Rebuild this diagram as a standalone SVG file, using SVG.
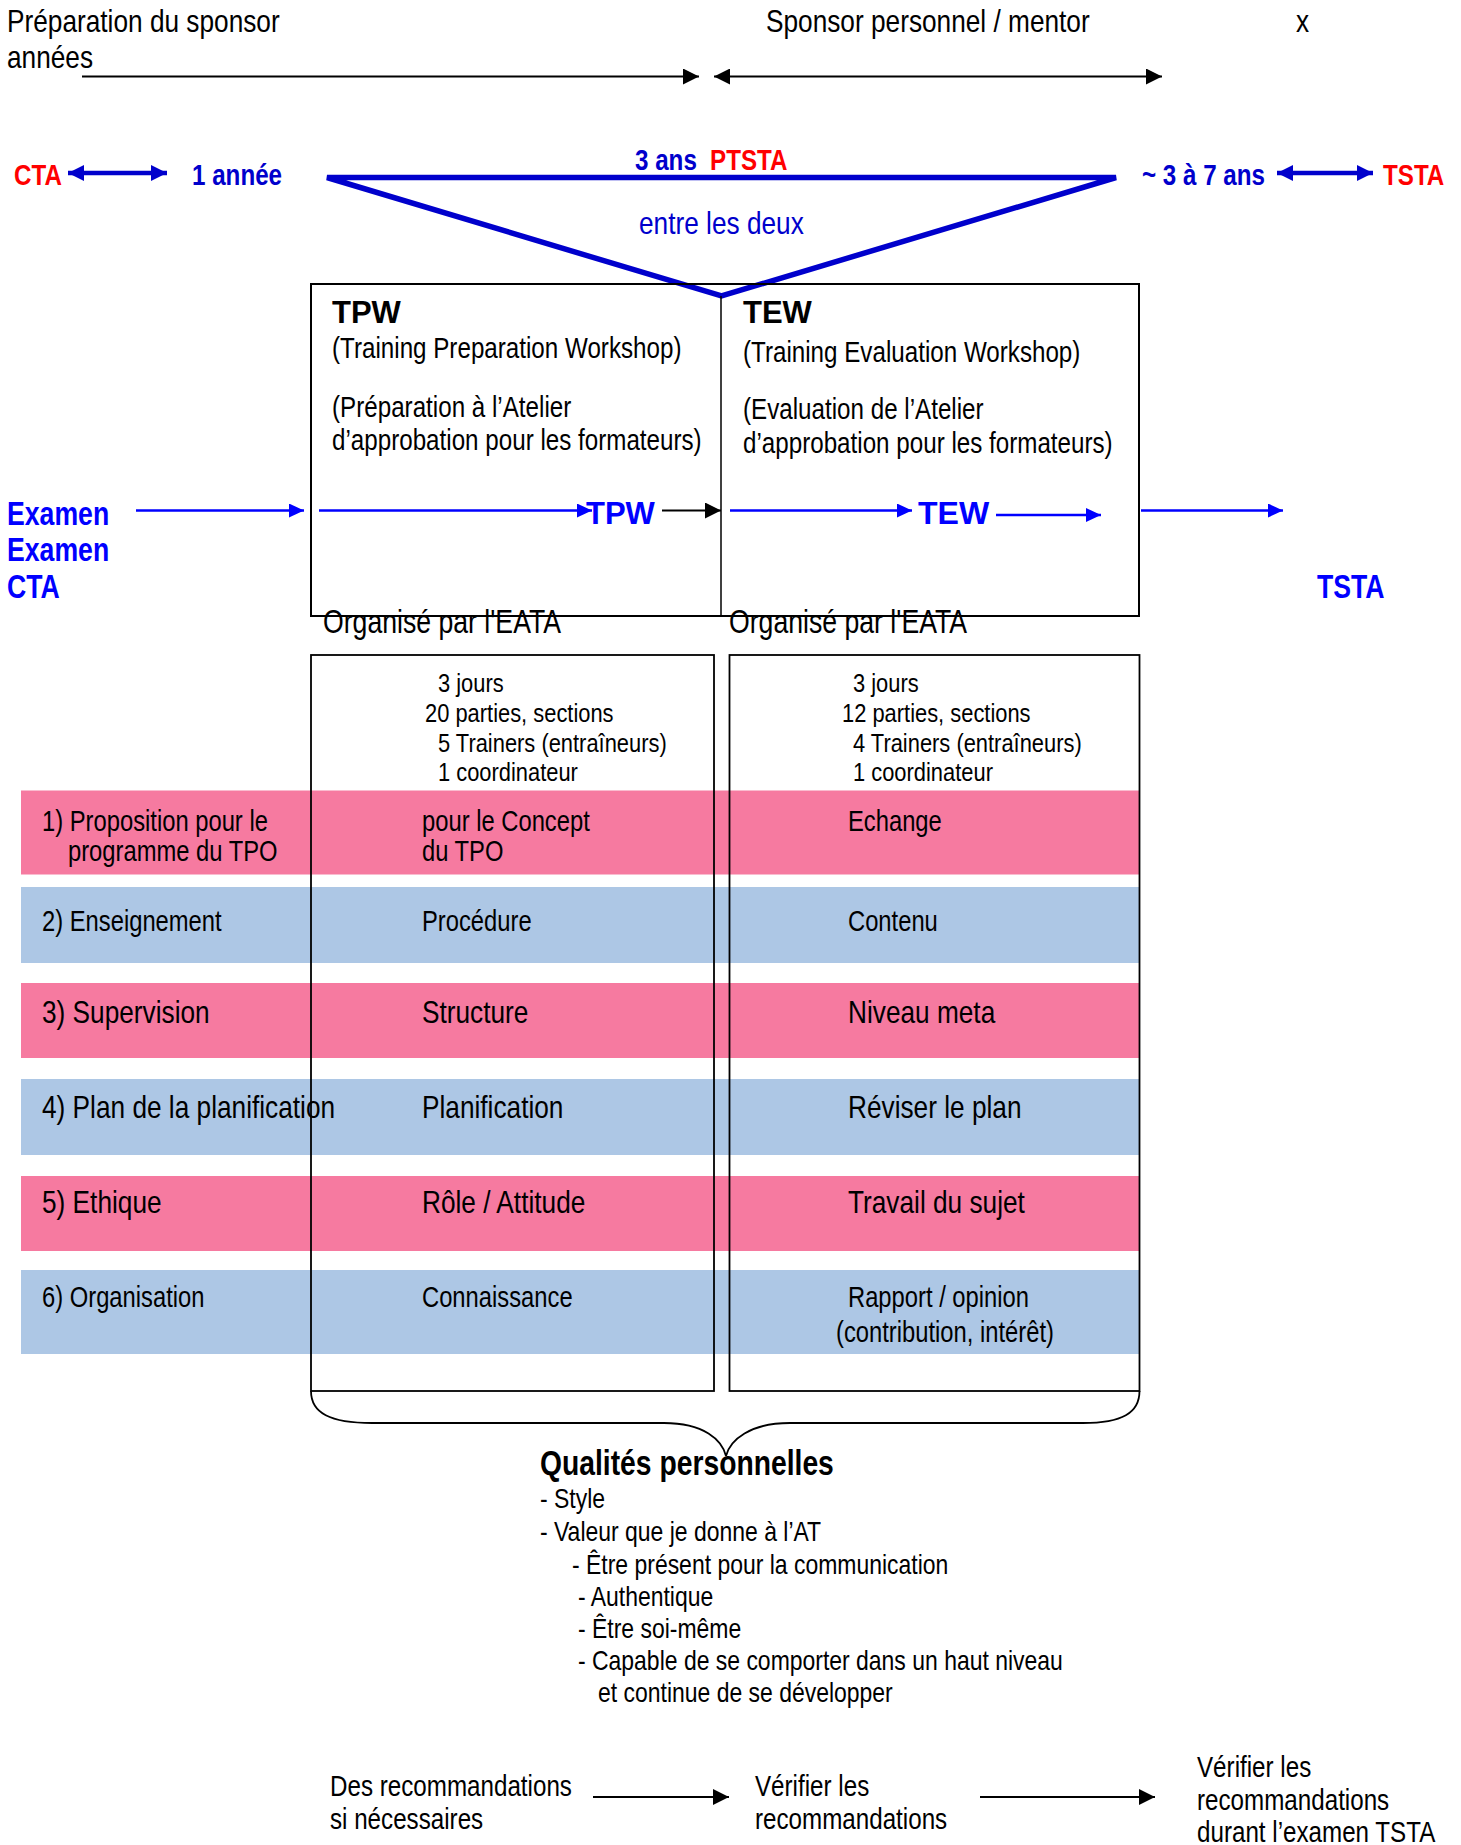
<svg xmlns="http://www.w3.org/2000/svg" width="1461" height="1845" viewBox="0 0 1461 1845">
<style>
text{font-family:"Liberation Sans",Arial,sans-serif;fill:#000}
.n{transform-box:fill-box;transform-origin:0% 50%;transform:scaleX(0.82)}
.h{font-size:32px}
.lb{font-size:29.5px;font-weight:bold}
.xb{font-size:32.5px;font-weight:bold;fill:#0000ff}
.red{fill:#ff0000}
.dblue{fill:#0000cc}
.blue{fill:#0000ff}
.wb{font-weight:bold;font-size:31px}
.bx{font-size:29.5px}
.org{font-size:32.5px}
.th{font-size:26.7px}
.r1{font-size:29px}
.r2{font-size:32px}
.q{font-size:28px}
.bt{font-size:29.5px}
.pink{fill:#f67aa0}
.lblue{fill:#adc7e5}
.ln{stroke:#000;stroke-width:2;fill:none}
.bl{stroke:#0000ff;stroke-width:2.5;fill:none}
.db{stroke:#0000cc;stroke-width:4.5;fill:none}
</style>
<defs>
<marker id="ak" markerUnits="userSpaceOnUse" markerWidth="16" markerHeight="16" refX="16" refY="8" orient="auto-start-reverse"><path d="M0,0 L16,8 L0,16 z" fill="#000"/></marker>
<marker id="ab" markerUnits="userSpaceOnUse" markerWidth="15" markerHeight="14" refX="15" refY="7" orient="auto-start-reverse"><path d="M0,0 L15,7 L0,14 z" fill="#0000ff"/></marker>
<marker id="ad" markerUnits="userSpaceOnUse" markerWidth="16" markerHeight="16" refX="16" refY="8" orient="auto-start-reverse"><path d="M0,0 L16,8 L0,16 z" fill="#0000cc"/></marker>
</defs>

<g id="bands">
<rect class="pink" x="21" y="790.5" width="1119" height="84"/>
<rect class="lblue" x="21" y="887" width="1119" height="76"/>
<rect class="pink" x="21" y="983" width="1119" height="75"/>
<rect class="lblue" x="21" y="1079" width="1119" height="76"/>
<rect class="pink" x="21" y="1176" width="1119" height="75"/>
<rect class="lblue" x="21" y="1270" width="1119" height="84"/>
</g>

<g id="header">
<text class="n h" x="7" y="32">Préparation du sponsor</text>
<text class="n h" x="7" y="68">années</text>
<text class="n h" x="766" y="32">Sponsor personnel / mentor</text>
<text class="n h" x="1296" y="32">x</text>
</g>

<g id="timeline">
<text class="n lb red" x="14" y="185">CTA</text>
<text class="n lb dblue" x="192" y="185">1 année</text>
<text class="n lb dblue" x="635" y="170">3 ans</text>
<text class="n lb red" x="710" y="170">PTSTA</text>
<text class="n lb dblue" x="1142" y="185">~ 3 à 7 ans</text>
<text class="n lb red" x="1383" y="185">TSTA</text>
</g>

<g id="triangle">
<polygon points="327,177.5 1116,177.5 721.5,296" fill="none" stroke="#0000cc" stroke-width="5.5"/>
<text class="n" x="639" y="234" style="font-size:32px;fill:#0000cc">entre les deux</text>
</g>

<g id="workshops">
<rect x="311" y="284" width="828" height="332" fill="none" stroke="#000" stroke-width="2"/>
<line x1="721" y1="296" x2="721" y2="616" stroke="#000" stroke-width="1.5"/>
</g>
<g id="tpw">
<text class="wb" x="332" y="323">TPW</text>
<text class="n bx" x="332" y="358">(Training Preparation Workshop)</text>
<text class="n bx" x="332" y="417">(Préparation à l’Atelier</text>
<text class="n bx" x="332" y="450">d’approbation pour les formateurs)</text>
<text class="n org" x="323" y="633">Organisé par l'EATA</text>
</g>
<g id="tew">
<text class="wb" x="743" y="323">TEW</text>
<text class="n bx" x="743" y="362">(Training Evaluation Workshop)</text>
<text class="n bx" x="743" y="419">(Evaluation de l’Atelier</text>
<text class="n bx" x="743" y="453">d’approbation pour les formateurs)</text>
<text class="n org" x="729" y="633">Organisé par l'EATA</text>
</g>

<g id="exam-left">
<text class="n xb" x="7" y="525">Examen</text>
<text class="n xb" x="7" y="561">Examen</text>
<text class="n xb" x="7" y="598">CTA</text>
</g>
<g id="tsta-right">
<text class="n xb" x="1317" y="598">TSTA</text>
</g>
<g id="flow-labels">
<text class="wb blue" x="586" y="524">TPW</text>
<text class="wb blue" x="918" y="524" style="font-size:32px">TEW</text>
</g>

<g id="table-left">
<rect x="311" y="655" width="403" height="736" fill="none" stroke="#000" stroke-width="1.8"/>
<text class="n th" x="438" y="692">3 jours</text>
<text class="n th" x="425" y="722">20 parties, sections</text>
<text class="n th" x="438" y="752">5 Trainers (entraîneurs)</text>
<text class="n th" x="438" y="781">1 coordinateur</text>
</g>
<g id="table-right">
<rect x="729.5" y="655" width="410" height="736" fill="none" stroke="#000" stroke-width="1.8"/>
<text class="n th" x="853" y="692">3 jours</text>
<text class="n th" x="842" y="722">12 parties, sections</text>
<text class="n th" x="853" y="752">4 Trainers (entraîneurs)</text>
<text class="n th" x="853" y="781">1 coordinateur</text>
</g>

<g id="rows">
<text class="n r1" x="42" y="831">1) Proposition pour le</text>
<text class="n r1" x="68" y="861">programme du TPO</text>
<text class="n r1" x="422" y="831">pour le Concept</text>
<text class="n r1" x="422" y="861">du TPO</text>
<text class="n r1" x="848" y="831">Echange</text>
<text class="n r1" x="42" y="931">2) Enseignement</text>
<text class="n r1" x="422" y="931">Procédure</text>
<text class="n r1" x="848" y="931">Contenu</text>
<text class="n r2" x="42" y="1023">3) Supervision</text>
<text class="n r2" x="422" y="1023">Structure</text>
<text class="n r2" x="848" y="1023">Niveau meta</text>
<text class="n r2" x="42" y="1118">4) Plan de la planification</text>
<text class="n r2" x="422" y="1118">Planification</text>
<text class="n r2" x="848" y="1118">Réviser le plan</text>
<text class="n r2" x="42" y="1213">5) Ethique</text>
<text class="n r2" x="422" y="1213">Rôle / Attitude</text>
<text class="n r2" x="848" y="1213">Travail du sujet</text>
<text class="n r1" x="42" y="1307">6) Organisation</text>
<text class="n r1" x="422" y="1307">Connaissance</text>
<text class="n r1" x="848" y="1307">Rapport / opinion</text>
<text class="n r1" x="836" y="1342">(contribution, intérêt)</text>
</g>

<g id="brace">
<path d="M311,1391 C311,1413 330,1423 372,1423 L664,1423 C704,1423 722,1440 726,1456 C730,1440 750,1423 790,1423 L1083,1423 C1122,1423 1139.5,1413 1139.5,1391" fill="none" stroke="#000" stroke-width="1.8"/>
</g>

<g id="qualites">
<text class="n" x="540" y="1475" style="font-size:34.5px;font-weight:bold">Qualités personnelles</text>
<text class="n q" x="540" y="1508">- Style</text>
<text class="n q" x="540" y="1541">- Valeur que je donne à l’AT</text>
<text class="n q" x="572" y="1574">- Être présent pour la communication</text>
<text class="n q" x="578" y="1606">- Authentique</text>
<text class="n q" x="578" y="1638">- Être soi-même</text>
<text class="n q" x="578" y="1670">- Capable de se comporter dans un haut niveau</text>
<text class="n q" x="598" y="1702">et continue de se développer</text>
</g>

<g id="recommandations">
<text class="n bt" x="330" y="1796">Des recommandations</text>
<text class="n bt" x="330" y="1829">si nécessaires</text>
</g>
<g id="verifier">
<text class="n bt" x="755" y="1796">Vérifier les</text>
<text class="n bt" x="755" y="1829">recommandations</text>
</g>
<g id="verifier-tsta">
<text class="n bt" x="1197" y="1777">Vérifier les</text>
<text class="n bt" x="1197" y="1810">recommandations</text>
<text class="n bt" x="1197" y="1842">durant l’examen TSTA</text>
</g>

<g id="connectors">
<line class="ln" x1="82" y1="76.5" x2="699" y2="76.5" marker-end="url(#ak)"/>
<line class="ln" x1="714" y1="76.5" x2="1162" y2="76.5" marker-start="url(#ak)" marker-end="url(#ak)"/>
<line class="db" x1="68" y1="173" x2="167" y2="173" marker-start="url(#ad)" marker-end="url(#ad)"/>
<line class="db" x1="1277" y1="173" x2="1373" y2="173" marker-start="url(#ad)" marker-end="url(#ad)"/>
<line class="bl" x1="136" y1="510.5" x2="304" y2="510.5" marker-end="url(#ab)"/>
<line class="bl" x1="319" y1="510.5" x2="592" y2="510.5" marker-end="url(#ab)"/>
<line class="ln" x1="662" y1="510.5" x2="721" y2="510.5" marker-end="url(#ak)"/>
<line class="bl" x1="730" y1="510.5" x2="912" y2="510.5" marker-end="url(#ab)"/>
<line class="bl" x1="996" y1="515" x2="1101" y2="515" marker-end="url(#ab)"/>
<line class="bl" x1="1141" y1="510.5" x2="1283" y2="510.5" marker-end="url(#ab)"/>
<line class="ln" x1="593" y1="1797" x2="729" y2="1797" marker-end="url(#ak)"/>
<line class="ln" x1="980" y1="1797" x2="1155" y2="1797" marker-end="url(#ak)"/>
</g>
</svg>
